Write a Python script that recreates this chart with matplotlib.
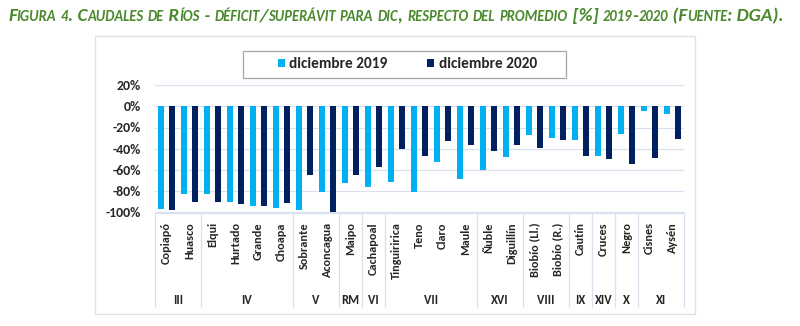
import numpy as np
import matplotlib
matplotlib.use("Agg")
import matplotlib.pyplot as plt
from matplotlib.patches import Rectangle
import matplotlib.transforms as mtransforms

# Ríos y déficit/superávit de caudal (%) respecto del promedio, diciembre
rios = ["Copiapó", "Huasco", "Elqui", "Hurtado", "Grande", "Choapa",
        "Sobrante", "Aconcagua", "Maipo", "Cachapoal", "Tinguiririca",
        "Teno", "Claro", "Maule", "Ñuble", "Diguillín", "Biobío (Ll.)",
        "Biobío (R.)", "Cautín", "Cruces", "Negro", "Cisnes", "Aysén"]
dic_2019 = [-97, -83, -83, -90, -94, -96, -98, -81, -72, -76, -71, -81,
            -52, -68, -60, -48, -27, -30, -32, -47, -26, -4, -7]
dic_2020 = [-98, -90, -90, -92, -94, -91, -65, -100, -65, -57, -40, -47,
            -33, -36, -42, -36, -39, -32, -47, -50, -54, -49, -31]

regiones = ["III", "IV", "V", "RM", "VI", "VII", "XVI", "VIII", "IX",
            "XIV", "X", "XI"]
rios_por_region = [2, 4, 2, 1, 1, 4, 2, 2, 1, 1, 1, 2]

yticks = [20, 0, -20, -40, -60, -80, -100]

titulo = ("Figura 4. Caudales de Ríos - déficit/superávit para dic, "
          "respecto del promedio [%] 2019-2020 (Fuente: DGA).")

c2019 = "#00B0F0"
c2020 = "#002060"
grid_c = "#d9e1ee"
txt_c = "#262626"
font = ["Carlito", "DejaVu Sans"]

W, H = 800, 326
fig = plt.figure(figsize=(W / 100, H / 100), dpi=100)

# marco del gráfico
fig.patches.append(Rectangle((95 / W, 1 - 314 / H), 600 / W, 278 / H,
                             transform=fig.transFigure, fill=False,
                             edgecolor="#dbe2ec", lw=1.0))

ax = fig.add_axes([155 / W, 1 - 212.5 / H, 529 / W, 127.5 / H])

x = np.arange(len(rios))
bw = 0.30
off = 0.24
b1 = ax.bar(x - off, dic_2019, bw, color=c2019, zorder=3,
            label="diciembre 2019")
b2 = ax.bar(x + off, dic_2020, bw, color=c2020, zorder=3,
            label="diciembre 2020")

ax.set_xlim(-0.5, len(rios) - 0.5)
ax.set_ylim(-100, 20)
ax.set_yticks(yticks)
ax.set_yticklabels([f"{v}%" for v in yticks], fontsize=10, fontweight="bold",
                   color=txt_c, family=font)
ax.yaxis.grid(True, color=grid_c, lw=0.9, zorder=0)
ax.tick_params(axis="y", length=0, pad=10)

ax.set_xticks(x)
ax.set_xticklabels(rios, rotation=90, fontsize=8.8, fontweight="bold",
                   color=txt_c, family=font)
ax.tick_params(axis="x", length=0, pad=7)

for s in ["top", "right", "left"]:
    ax.spines[s].set_visible(False)
ax.spines["bottom"].set_color(grid_c)
ax.spines["bottom"].set_linewidth(0.9)

# eje de categorías en dos niveles: separadores y regiones
trans = mtransforms.blended_transform_factory(ax.transData, ax.transAxes)
bordes = np.concatenate([[0], np.cumsum(rios_por_region)]) - 0.5
y_bajo = (212.5 - 307) / 127.5
for b in bordes:
    ax.plot([b, b], [0, y_bajo], color=grid_c, lw=0.9, transform=trans,
            clip_on=False)
y_reg = (212.5 - 300) / 127.5
for reg, a, b in zip(regiones, bordes[:-1], bordes[1:]):
    ax.text((a + b) / 2, y_reg, reg, transform=trans, ha="center",
            va="center", fontsize=9, fontweight="bold", color=txt_c,
            family=font)

# leyenda con recuadro propio
fig.patches.append(Rectangle((243 / W, 1 - 78 / H), 323 / W, 27 / H,
                             transform=fig.transFigure, fill=False,
                             edgecolor="#a6a6a6", lw=0.9))
ax.legend(handles=[b1, b2], loc="center",
          bbox_to_anchor=(407.5 / W, 1 - 64.5 / H),
          bbox_transform=fig.transFigure, ncol=2, frameon=False,
          handlelength=0.45, handleheight=0.45, handletextpad=0.3,
          columnspacing=2.6,
          prop={"family": font, "weight": "bold", "size": 11})
for t in ax.get_legend().get_texts():
    t.set_color(txt_c)


# título en versalitas: minúsculas y cifras en mayúscula de menor tamaño
def versalitas(texto, x0, x1, y, grande, chica, **kw):
    runs = []
    for ch in texto:
        peq = ch.islower() or ch.isdigit()
        c = ch.upper()
        if runs and runs[-1][1] == peq:
            runs[-1][0] += c
        else:
            runs.append([c, peq])
    ren = fig.canvas.get_renderer()

    def ancho(s, size):
        t = fig.text(0, 0, "|" + s + "|", fontsize=size, **kw)
        r = fig.text(0, 0, "||", fontsize=size, **kw)
        w = t.get_window_extent(ren).width - r.get_window_extent(ren).width
        t.remove()
        r.remove()
        return w

    total = sum(ancho(s, chica if p else grande) for s, p in runs)
    k = (x1 - x0) / total
    pos = x0
    for s, p in runs:
        size = (chica if p else grande) * k
        fig.text(pos / W, 1 - y / H, s, fontsize=size, ha="left",
                 va="baseline", **kw)
        pos += ancho(s, size)


versalitas(titulo, 8, 783, 21, 10.5, 8.0, family=font, style="italic",
           weight="bold", color="#4a8a2c")

fig.savefig("out.png", dpi=100)
